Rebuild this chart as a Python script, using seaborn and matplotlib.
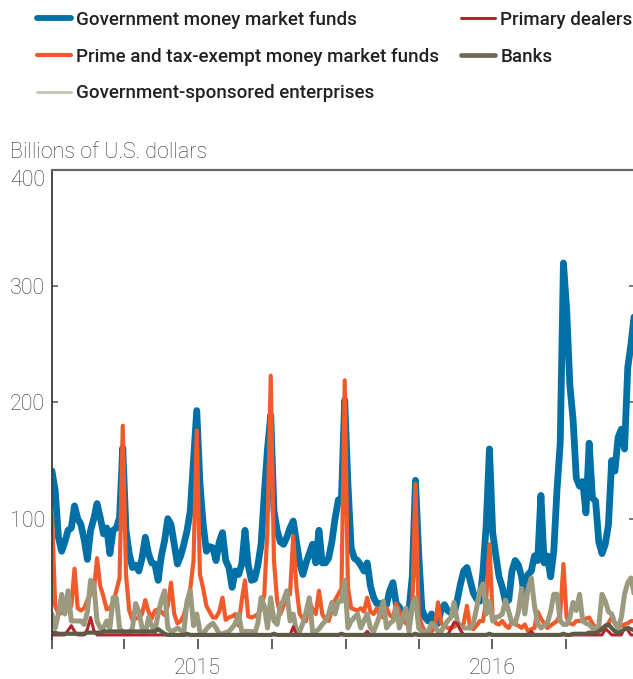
import matplotlib
matplotlib.use("Agg")
import numpy as np
import pandas as pd
import seaborn as sns
from matplotlib import pyplot as plt
from matplotlib.lines import Line2D

# Overnight reverse repo take-up by counterparty, billions of U.S. dollars,
# one reading every 4 days starting 1 Jan 2015
start = "2015-01-01"

gov_mmf = [
    141, 124, 84, 72, 80, 90, 92, 111, 100, 95,
    82, 65, 90, 100, 113, 101, 87, 92, 70, 90,
    92, 101, 161, 90, 70, 58, 60, 55, 66, 84,
    70, 62, 61, 47, 68, 81, 100, 95, 78, 61,
    68, 78, 90, 107, 150, 193, 130, 95, 72, 76,
    75, 64, 80, 88, 64, 58, 41, 55, 52, 61,
    90, 60, 47, 48, 60, 78, 121, 160, 189, 107,
    90, 80, 78, 84, 92, 98, 80, 62, 52, 62,
    70, 78, 62, 90, 62, 62, 66, 80, 100, 116,
    118, 202, 130, 75, 66, 64, 60, 55, 62, 42,
    32, 27, 27, 27, 26, 38, 45, 27, 24, 18,
    12, 22, 50, 133, 70, 22, 15, 12, 18, 12,
    10, 22, 26, 21, 19, 18, 30, 44, 55, 58,
    47, 36, 31, 29, 55, 95, 160, 88, 68, 50,
    41, 28, 30, 55, 64, 60, 50, 30, 52, 55,
    68, 64, 120, 62, 68, 50, 72, 125, 165, 320,
    280, 215, 185, 135, 128, 132, 105, 165, 118, 115,
    80, 70, 78, 95, 150, 141, 170, 177, 160, 230,
    250, 275,
]

prime_mmf = [
    103, 25, 18, 19, 21, 22, 25, 57, 23, 21,
    23, 30, 35, 38, 66, 42, 33, 22, 23, 28,
    38, 49, 180, 52, 21, 13, 14, 15, 18, 30,
    20, 14, 21, 22, 20, 17, 25, 45, 18, 10,
    12, 17, 28, 40, 64, 176, 52, 40, 25, 20,
    15, 15, 20, 32, 13, 15, 16, 18, 8, 30,
    47, 16, 15, 16, 18, 22, 35, 92, 223, 64,
    29, 18, 25, 35, 35, 85, 41, 18, 14, 12,
    29, 22, 18, 38, 18, 13, 12, 21, 30, 35,
    40, 219, 41, 23, 22, 21, 23, 20, 32, 20,
    18, 23, 16, 15, 23, 17, 15, 27, 20, 15,
    10, 8, 23, 130, 18, 8, 3, 4, 3, 6,
    28, 10, 8, 6, 6, 7, 9, 6, 10, 25,
    6, 5, 8, 12, 12, 30, 78, 15, 10, 9,
    12, 8, 6, 12, 9, 8, 6, 9, 3, 5,
    6, 20, 14, 10, 6, 8, 10, 12, 18, 61,
    15, 10, 9, 12, 12, 12, 14, 15, 10, 6,
    6, 6, 6, 10, 15, 10, 6, 8, 9, 10,
    12, 12,
]

gse = [
    18, 6, 18, 35, 18, 38, 12, 12, 12, 12,
    9, 20, 47, 44, 12, 6, 6, 12, 6, 32,
    32, 6, 2, 1, 1, 6, 27, 20, 6, 1,
    15, 8, 3, 18, 30, 38, 6, 3, 4, 6,
    4, 3, 29, 38, 8, 18, 3, 1, 5, 8,
    10, 6, 1, 1, 2, 3, 6, 10, 18, 3,
    3, 3, 3, 1, 10, 32, 25, 6, 32, 12,
    9, 25, 30, 38, 12, 18, 3, 3, 10, 20,
    32, 3, 3, 5, 9, 12, 18, 28, 18, 29,
    29, 47, 6, 12, 15, 18, 6, 12, 18, 6,
    3, 10, 18, 29, 6, 10, 12, 23, 6, 15,
    23, 3, 25, 32, 6, 3, 3, 3, 10, 8,
    3, 3, 8, 12, 15, 28, 12, 6, 6, 6,
    6, 10, 23, 38, 44, 18, 29, 12, 15, 16,
    18, 30, 20, 10, 10, 20, 40, 18, 40, 49,
    25, 10, 6, 8, 10, 20, 35, 35, 12, 9,
    9, 15, 28, 21, 35, 12, 10, 9, 6, 6,
    8, 35, 29, 20, 18, 10, 6, 15, 35, 45,
    49, 35,
]

dealers = [
    0, 0, 0, 0, 0, 4, 8, 3, 0, 0,
    0, 5, 15, 4, 0, 0, 0, 0, 0, 0,
    0, 0, 0, 0, 0, 0, 0, 0, 0, 0,
    0, 0, 0, 0, 0, 0, 0, 0, 0, 0,
    0, 0, 0, 0, 0, 0, 0, 0, 0, 0,
    0, 0, 0, 0, 0, 0, 0, 0, 0, 0,
    0, 0, 0, 0, 0, 0, 0, 0, 0, 0,
    0, 0, 0, 0, 0, 7, 0, 0, 0, 0,
    0, 0, 0, 0, 0, 0, 0, 0, 0, 0,
    0, 0, 0, 0, 0, 0, 0, 0, 3, 0,
    0, 0, 0, 0, 0, 0, 0, 0, 0, 0,
    0, 0, 0, 0, 0, 0, 0, 0, 0, 0,
    0, 0, 0, 0, 5, 11, 10, 4, 0, 0,
    0, 0, 0, 0, 0, 0, 0, 0, 0, 0,
    0, 0, 0, 0, 0, 0, 0, 0, 0, 3,
    0, 0, 0, 0, 0, 0, 0, 0, 0, 0,
    0, 0, 0, 0, 0, 0, 0, 0, 0, 0,
    0, 0, 5, 3, 0, 0, 0, 0, 6, 4,
    0, 0,
]

banks = [
    2, 2, 1, 1, 1, 1, 1, 1, 1, 1,
    1, 2, 2, 2, 2, 2, 3, 3, 3, 3,
    3, 3, 3, 3, 3, 3, 3, 3, 3, 3,
    3, 3, 3, 5, 3, 1, 0, 0, 0, 0,
    0, 0, 1, 0, 0, 0, 0, 0, 0, 0,
    0, 0, 0, 0, 0, 0, 0, 0, 0, 0,
    0, 0, 0, 0, 0, 0, 0, 0, 0, 1,
    0, 0, 0, 0, 0, 0, 0, 0, 0, 0,
    0, 0, 0, 0, 0, 0, 0, 0, 0, 0,
    1, 0, 0, 0, 0, 0, 0, 0, 0, 0,
    0, 0, 0, 0, 0, 0, 0, 0, 0, 0,
    0, 0, 0, 1, 0, 0, 0, 0, 0, 0,
    0, 0, 0, 0, 0, 0, 0, 0, 0, 0,
    0, 0, 0, 0, 0, 0, 1, 0, 0, 0,
    0, 0, 0, 0, 0, 0, 0, 0, 0, 0,
    0, 0, 0, 0, 0, 0, 0, 0, 0, 1,
    0, 0, 1, 1, 1, 1, 1, 2, 2, 2,
    3, 5, 8, 9, 6, 3, 2, 3, 5, 6,
    5, 4,
]

quarter_ticks = ["2015-01-01", "2015-04-01", "2015-07-01", "2015-10-01",
                 "2016-01-01", "2016-04-01", "2016-07-01", "2016-10-01"]
tick_labels = ["", "", "2015", "", "", "", "2016", ""]
y_ticks = [100, 200, 300, 400]

dates = pd.date_range(start, periods=len(gov_mmf), freq="4D")
df = pd.DataFrame({
    "date": dates,
    "Government money market funds": gov_mmf,
    "Prime and tax-exempt money market funds": prime_mmf,
    "Government-sponsored enterprises": gse,
    "Primary dealers": dealers,
    "Banks": banks,
})

# name, colour, plot width, legend colour, legend width
styles = [
    ("Government money market funds", "#0170a6", 4.9, "#0170a6", 4.2),
    ("Prime and tax-exempt money market funds", "#f15a2b", 3.0, "#f15a2b", 3.0),
    ("Government-sponsored enterprises", "#9b9a7e", 3.6, "#c8cab6", 2.2),
    ("Primary dealers", "#b3242c", 2.2, "#b3242c", 2.2),
    ("Banks", "#5d5a48", 3.0, "#6c6a56", 3.4),
]

sns.set_style("white")
plt.rcParams["font.family"] = ["Roboto", "DejaVu Sans"]

fig = plt.figure(figsize=(6.33, 6.79), dpi=100)
ax = fig.add_axes((52 / 633, 40 / 679, 583 / 633, 469 / 679))

for name, color, lw, _, _ in styles:
    sns.lineplot(data=df, x="date", y=name, color=color, linewidth=lw, ax=ax,
                 solid_joinstyle="round", solid_capstyle="round")

ax.set_xlim(pd.Timestamp(start), pd.Timestamp(start) + pd.Timedelta(days=725))
ax.set_ylim(-3.5, 400)
ax.set_xlabel("")
ax.set_ylabel("")

ax.set_xticks(pd.to_datetime(quarter_ticks))
ax.set_xticklabels(tick_labels)
ax.set_yticks(y_ticks)
ax.set_yticklabels([str(v) for v in y_ticks])
ax.get_yticklabels()[-1].set_verticalalignment("top")

ax.tick_params(axis="x", direction="out", length=7.5, width=1.1, color="#333333",
               labelsize=15.5, labelcolor="#333333", pad=6, bottom=True)
ax.tick_params(axis="y", direction="in", length=4.5, width=1.1, color="#555555",
               labelsize=15.5, labelcolor="#333333", pad=5, left=True, right=True)
for lab in ax.get_xticklabels() + ax.get_yticklabels():
    lab.set_fontweight("light")

ax.spines["bottom"].set_visible(False)
ax.spines["right"].set_visible(False)
ax.spines["left"].set_color("#3a3a3a")
ax.spines["left"].set_linewidth(1.3)
ax.spines["top"].set_color("#666666")
ax.spines["top"].set_linewidth(1.6)

fig.text(10 / 633, 1 - 153 / 679, "Billions of U.S. dollars", fontsize=15.5,
         fontweight="light", color="#333333", va="center", ha="left")

handles = [Line2D([], [], color=lc, linewidth=lw, solid_capstyle="round")
           for _, _, _, lc, lw in styles]
labels = [s[0] for s in styles]
leg = fig.legend(handles, labels, loc="upper left", ncol=2,
                 bbox_to_anchor=(37 / 633, 1 - 11 / 679), frameon=False,
                 prop={"size": 13.5, "weight": "medium"},
                 handlelength=1.8, handletextpad=0.3, labelspacing=1.0,
                 columnspacing=1.15, borderpad=0, borderaxespad=0)
for t in leg.get_texts():
    t.set_color("#222222")

fig.savefig("out.png", dpi=100)
